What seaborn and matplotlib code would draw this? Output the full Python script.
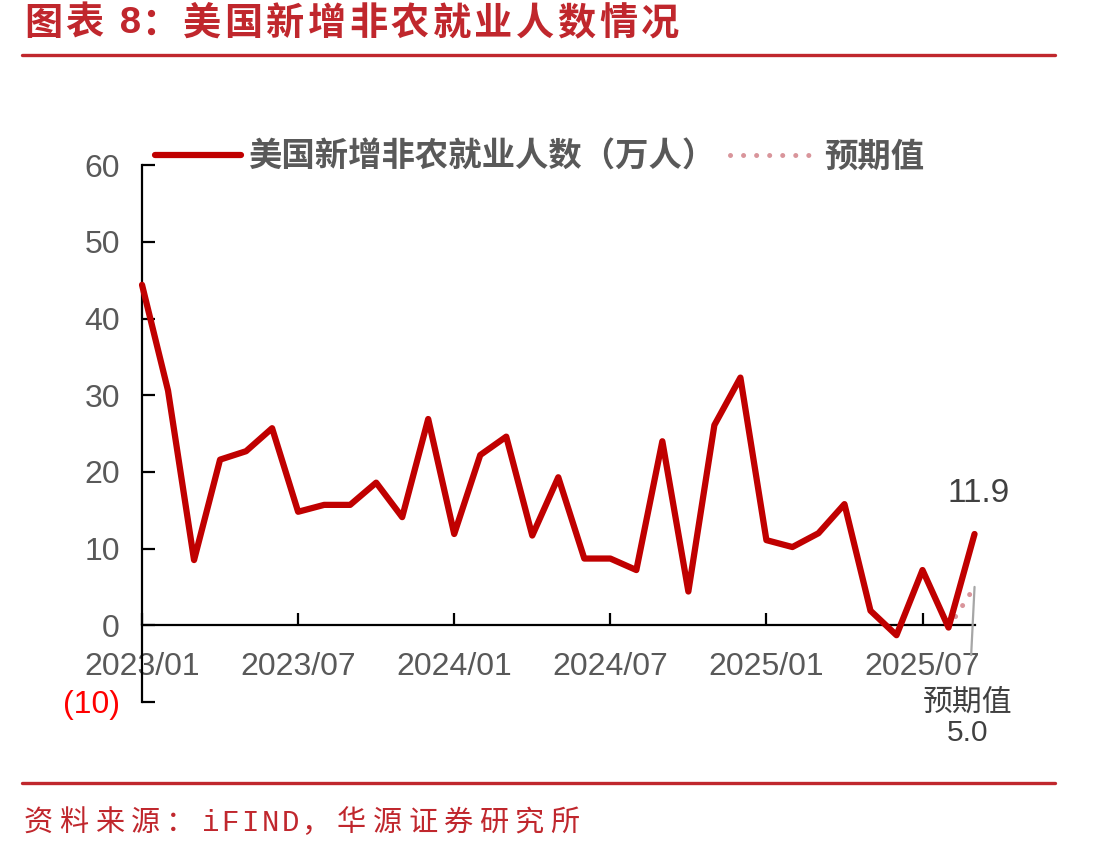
import pandas as pd
import matplotlib.pyplot as plt
import matplotlib.ticker as mticker
from matplotlib.lines import Line2D
import seaborn as sns

# monthly change in US nonfarm payrolls, 10k persons, 2023/01 - 2025/09
months = pd.date_range('2023-01-01', periods=33, freq='MS').strftime('%Y/%m').tolist()
nfp = [44.4, 30.6, 8.5, 21.6, 22.7, 25.7, 14.8, 15.7, 15.7, 18.6, 14.1, 26.9,
       11.9, 22.2, 24.6, 11.7, 19.3, 8.7, 8.7, 7.2, 24.0, 4.4, 26.1, 32.3,
       11.1, 10.2, 12.0, 15.8, 1.9, -1.3, 7.2, -0.3, 11.9]
expected = [None] * 31 + [-0.3, 5.0]
tick_months = ['2023/01', '2023/07', '2024/01', '2024/07', '2025/01', '2025/07']
y_ticks = [-10, 0, 10, 20, 30, 40, 50, 60]

df = pd.DataFrame({'idx': range(len(months)), 'month': months,
                   'nfp': nfp, 'expected': expected})
df['expected'] = df['expected'].astype(float)

sns.set_theme(style='white')
plt.rcParams['font.family'] = ['Liberation Sans', 'Noto Sans CJK SC', 'DejaVu Sans']
cjk = ['Noto Sans CJK SC', 'DejaVu Sans']
mono = ['Liberation Mono', 'DejaVu Sans Mono']
gray = '#595959'
title_red = '#C0272D'
W, H = 1113, 856

fig = plt.figure(figsize=(W / 100, H / 100), dpi=100)
ax = fig.add_axes([0.1276, 0.18, 0.748, 0.627])


def spaced_text(x, y, text, full, half, **kw):
    # header/footer in the report use wide letter spacing
    for ch in text:
        wide = ord(ch) > 0x2E80
        fam = cjk if wide else mono
        fig.text(x / W, 1 - y / H, ch, ha='left', va='center', family=fam, **kw)
        if ch == ' ':
            x += half * 0.55
        elif wide:
            x += full
        else:
            x += half


sns.lineplot(data=df, x='idx', y='nfp', ax=ax, color='#C00000', lw=4.5,
             label='美国新增非农就业人数（万人）', clip_on=False, zorder=3)
sns.lineplot(data=df.dropna(subset=['expected']), x='idx', y='expected', ax=ax,
             color='#D9959B', lw=3.6, linestyle=(0, (0.01, 2.6)),
             dash_capstyle='round', label='预期值', clip_on=False, zorder=2)

ax.set_xlim(0, 32)
ax.set_ylim(-10, 60)
ax.set_xlabel('')
ax.set_ylabel('')

ax.set_xticks([months.index(m) for m in tick_months])
ax.set_xticklabels(tick_months)
ax.set_yticks(y_ticks)
ax.yaxis.set_major_formatter(mticker.FuncFormatter(
    lambda v, p: f'({abs(int(v))})' if v < 0 else f'{int(v)}'))

for s in ['top', 'right']:
    ax.spines[s].set_visible(False)
ax.spines['bottom'].set_position(('data', 0))
for s in ['left', 'bottom']:
    ax.spines[s].set_color('black')
    ax.spines[s].set_linewidth(1.6)

ax.tick_params(axis='both', direction='in', length=9, width=1.6, color='black',
               labelsize=23, labelcolor=gray, left=True, bottom=True)
ax.tick_params(axis='x', pad=19)
ax.tick_params(axis='y', pad=16)
for lab in ax.get_yticklabels():
    if lab.get_text().startswith('('):
        lab.set_color('#FF0000')

# labels for the latest value and consensus
ax.text(32.15, 17.2, '11.9', ha='center', va='center', fontsize=24, color='#404040')
ax.annotate('预期值\n5.0', xy=(32, 5.0), xytext=(31.75, -12.1),
            ha='center', va='center', fontsize=21.5, color='#404040',
            family=['Liberation Sans', 'Noto Sans CJK SC'], linespacing=1.1,
            arrowprops=dict(arrowstyle='-', color='#A6A6A6', lw=1.6,
                            shrinkA=22, shrinkB=0))

leg = ax.legend(loc='center left', bbox_to_anchor=(0.139, 0.8166),
                bbox_transform=fig.transFigure, ncol=2, frameon=False,
                borderpad=0, borderaxespad=0, handlelength=2.6,
                handletextpad=0.2, columnspacing=0.45,
                prop={'family': cjk, 'weight': 'bold', 'size': 24})
for t in leg.get_texts():
    t.set_color(gray)

# header / footer
spaced_text(24, 23, '图表 8：美国新增非农就业人数情况', 41.6, 22,
            fontsize=27.5, color=title_red, weight='bold')
fig.add_artist(Line2D([0.0198, 0.948], [0.9357, 0.9357], color=title_red, lw=2.4))
fig.add_artist(Line2D([0.0198, 0.948], [0.0853, 0.0853], color=title_red, lw=2.4))
spaced_text(24, 823, '资料来源：iFIND，华源证券研究所', 35.5, 20,
            fontsize=21, color=title_red)

plt.savefig('out.png', dpi=100)
